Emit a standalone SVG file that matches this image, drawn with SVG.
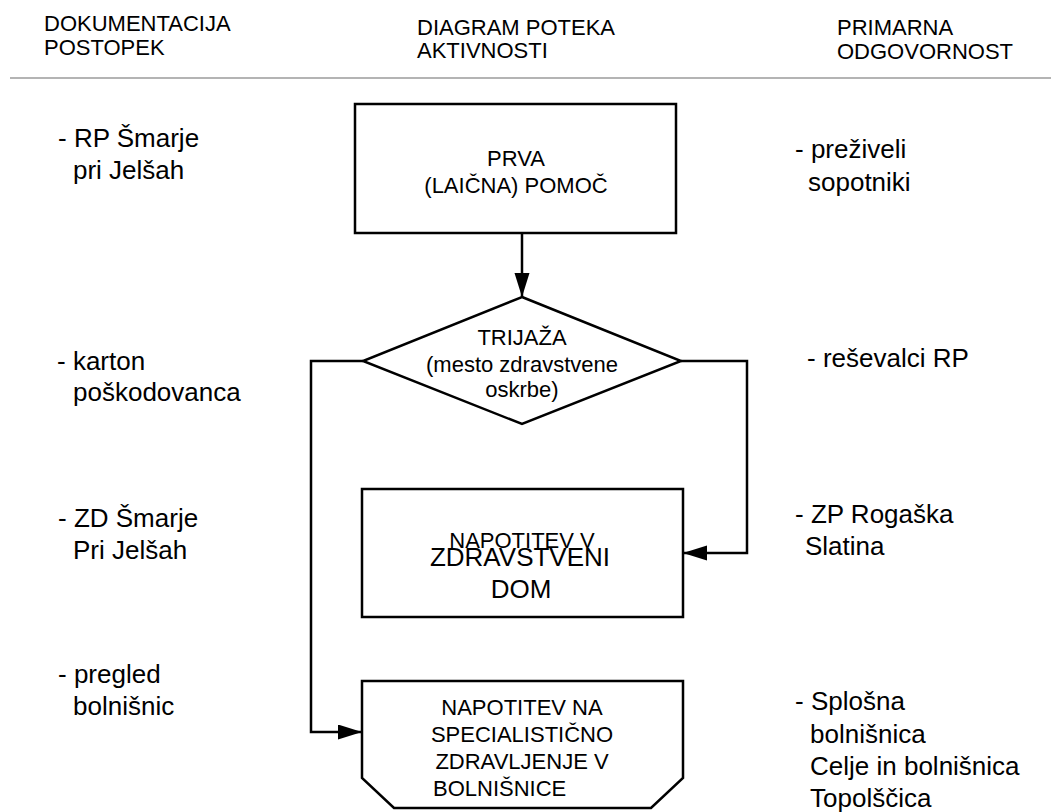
<svg xmlns="http://www.w3.org/2000/svg" width="1051" height="812" viewBox="0 0 1051 812">
<style>
text{font-family:"Liberation Sans",Arial,sans-serif;fill:#000}
.h{font-size:22px}
.s{font-size:22px}
.c{text-anchor:middle}
.l{font-size:26px}
.shape{fill:#fff;stroke:#000;stroke-width:2.5}
.conn{fill:none;stroke:#000;stroke-width:2.5}
</style>
<defs>
<marker id="arr" markerUnits="userSpaceOnUse" markerWidth="26" markerHeight="16" refX="24" refY="7.5" orient="auto">
<path d="M0,0 L24,7.5 L0,15 z" fill="#000"/>
</marker>
</defs>
<rect width="1051" height="812" fill="#fff"/>
<g id="header">
<text class="h" x="44" y="31">DOKUMENTACIJA</text>
<text class="h" x="44" y="55">POSTOPEK</text>
<text class="h" x="417" y="35">DIAGRAM POTEKA</text>
<text class="h" x="417" y="58">AKTIVNOSTI</text>
<text class="h" x="837" y="35">PRIMARNA</text>
<text class="h" x="837" y="59">ODGOVORNOST</text>
<line x1="10" y1="78" x2="1051" y2="78" stroke="#b4b4b4" stroke-width="2"/>
</g>
<g id="connectors">
<line class="conn" x1="522" y1="233" x2="522" y2="297" marker-end="url(#arr)"/>
<polyline class="conn" points="681,361 747,361 747,553 683,553" marker-end="url(#arr)"/>
<polyline class="conn" points="363,361 311,361 311,732 362,732" marker-end="url(#arr)"/>
</g>
<g id="prva">
<rect class="shape" x="355" y="104" width="321" height="129"/>
<text class="s c" x="516" y="166">PRVA</text>
<text class="s c" x="516" y="193">(LAIČNA) POMOČ</text>
</g>
<g id="trijaza">
<polygon class="shape" points="522,297 681,361 522,424 363,361"/>
<text class="s c" x="522" y="345">TRIJAŽA</text>
<text class="s c" x="522" y="372">(mesto zdravstvene</text>
<text class="s c" x="522" y="397">oskrbe)</text>
</g>
<g id="zd">
<rect class="shape" x="362" y="489" width="321" height="128"/>
<text class="s c" x="522" y="548">NAPOTITEV V</text>
<text class="l c" x="520" y="566">ZDRAVSTVENI</text>
<text class="l c" x="521" y="598">DOM</text>
</g>
<g id="bolnisnice">
<polygon class="shape" points="362,681 683,681 683,778 651,808 394,808 362,778"/>
<text class="s c" x="522" y="715">NAPOTITEV NA</text>
<text class="s c" x="522" y="742">SPECIALISTIČNO</text>
<text class="s c" x="522" y="769">ZDRAVLJENJE V</text>
<text class="s" x="433" y="796">BOLNIŠNICE</text>
</g>
<g id="dokumentacija">
<text class="l" x="58" y="147">- RP Šmarje</text>
<text class="l" x="73" y="179">pri Jelšah</text>
<text class="l" x="57" y="370">- karton</text>
<text class="l" x="73" y="401">poškodovanca</text>
<text class="l" x="58" y="527">- ZD Šmarje</text>
<text class="l" x="73" y="559">Pri Jelšah</text>
<text class="l" x="58" y="683">- pregled</text>
<text class="l" x="73" y="715">bolnišnic</text>
</g>
<g id="odgovornost">
<text class="l" x="795" y="158">- preživeli</text>
<text class="l" x="808" y="191">sopotniki</text>
<text class="l" x="807" y="367">- reševalci RP</text>
<text class="l" x="795" y="523">- ZP Rogaška</text>
<text class="l" x="805" y="555">Slatina</text>
<text class="l" x="795" y="710">- Splošna</text>
<text class="l" x="810" y="743">bolnišnica</text>
<text class="l" x="810" y="775">Celje in bolnišnica</text>
<text class="l" x="810" y="807">Topolščica</text>
</g>
</svg>
